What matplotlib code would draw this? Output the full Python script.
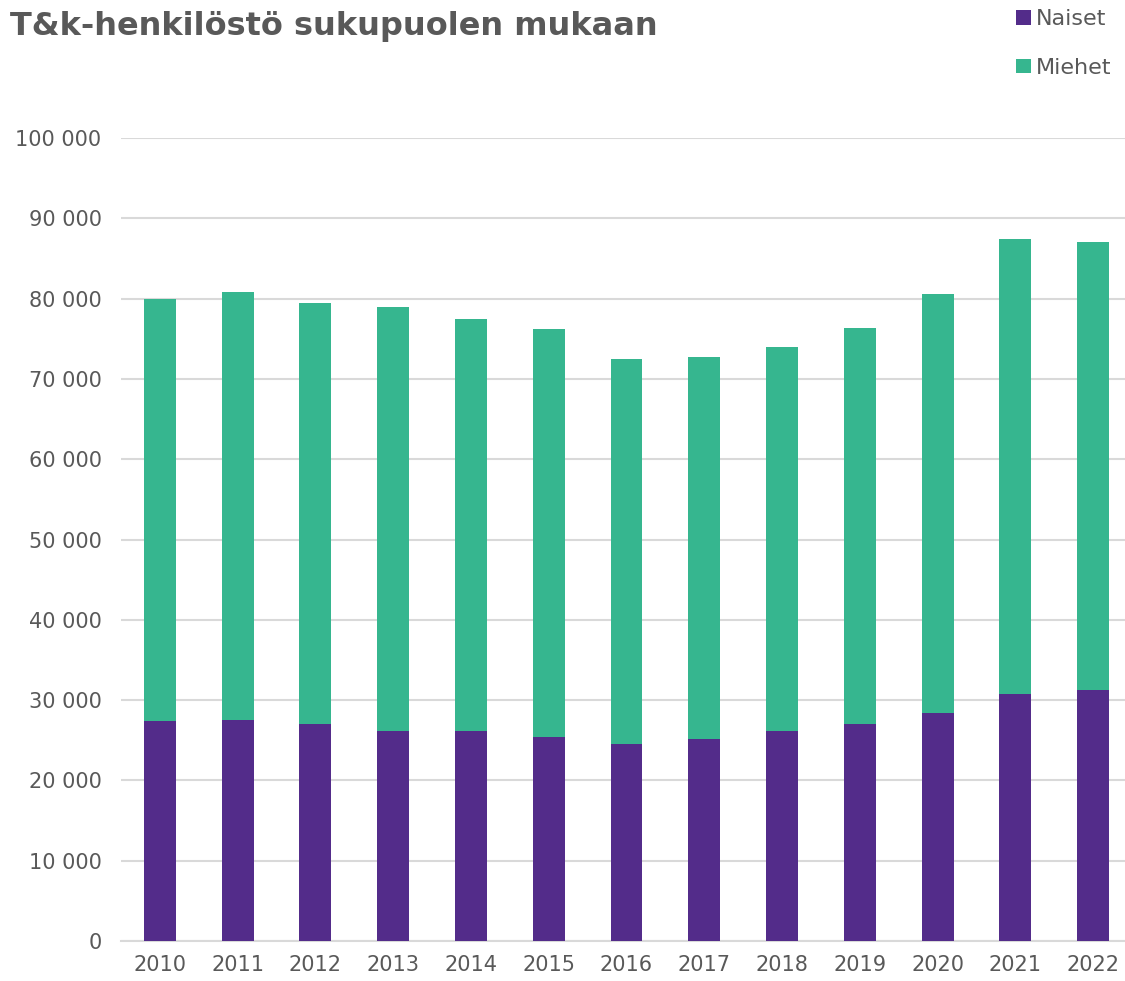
import matplotlib.pyplot as plt
import numpy as np
from matplotlib.ticker import FuncFormatter

# T&k-henkilöstö sukupuolen mukaan (luvut luettu kuvasta)
vuodet = ["2010", "2011", "2012", "2013", "2014", "2015", "2016",
          "2017", "2018", "2019", "2020", "2021", "2022"]
naiset = [27400, 27500, 27000, 26200, 26100, 25400, 24500,
          25200, 26200, 27000, 28400, 30800, 31300]
yhteensa = [80000, 80800, 79400, 79000, 77400, 76200, 72500,
            72700, 74000, 76300, 80600, 87400, 87000]
miehet = [t - n for t, n in zip(yhteensa, naiset)]

violetti = "#532C8A"
vihrea = "#36B68F"
harmaa = "#595959"

fig = plt.figure(figsize=(11.25, 9.81), dpi=100)
ax = fig.add_axes([121 / 1125, 40 / 981, 1 - 121 / 1125, (941 - 138) / 981])

x = np.arange(len(vuodet))
ax.bar(x, naiset, width=0.41, color=violetti, label="Naiset", zorder=3)
ax.bar(x, miehet, width=0.41, bottom=naiset, color=vihrea, label="Miehet", zorder=3)

ax.set_ylim(0, 100000)
ax.set_xlim(-0.5, 12.41)
ax.set_yticks(range(0, 100001, 10000))
ax.yaxis.set_major_formatter(FuncFormatter(lambda v, p: f"{int(v):,}".replace(",", " ")))
ax.set_xticks(x)
ax.set_xticklabels(vuodet)
ax.tick_params(axis="both", length=0, labelsize=15, labelcolor=harmaa)
ax.tick_params(axis="y", pad=14)
ax.tick_params(axis="x", pad=10)

ax.grid(axis="y", color="#d9d9d9", linewidth=1.5, zorder=0)
for s in ["top", "right", "left"]:
    ax.spines[s].set_visible(False)
ax.spines["bottom"].set_color("#d9d9d9")
ax.spines["bottom"].set_linewidth(1.5)

fig.text(10 / 1125, 1 - 26 / 981, "T&k-henkilöstö sukupuolen mukaan", fontsize=23,
         fontweight="bold", color=harmaa, va="center", ha="left")

fig.legend(loc="upper right", bbox_to_anchor=(0.996, 1.0), frameon=False, fontsize=16,
           labelcolor=harmaa, handlelength=0.65, handleheight=0.65, handletextpad=0.25,
           labelspacing=1.3, borderaxespad=0.0, borderpad=0.4)

plt.savefig("out.png", dpi=100)
